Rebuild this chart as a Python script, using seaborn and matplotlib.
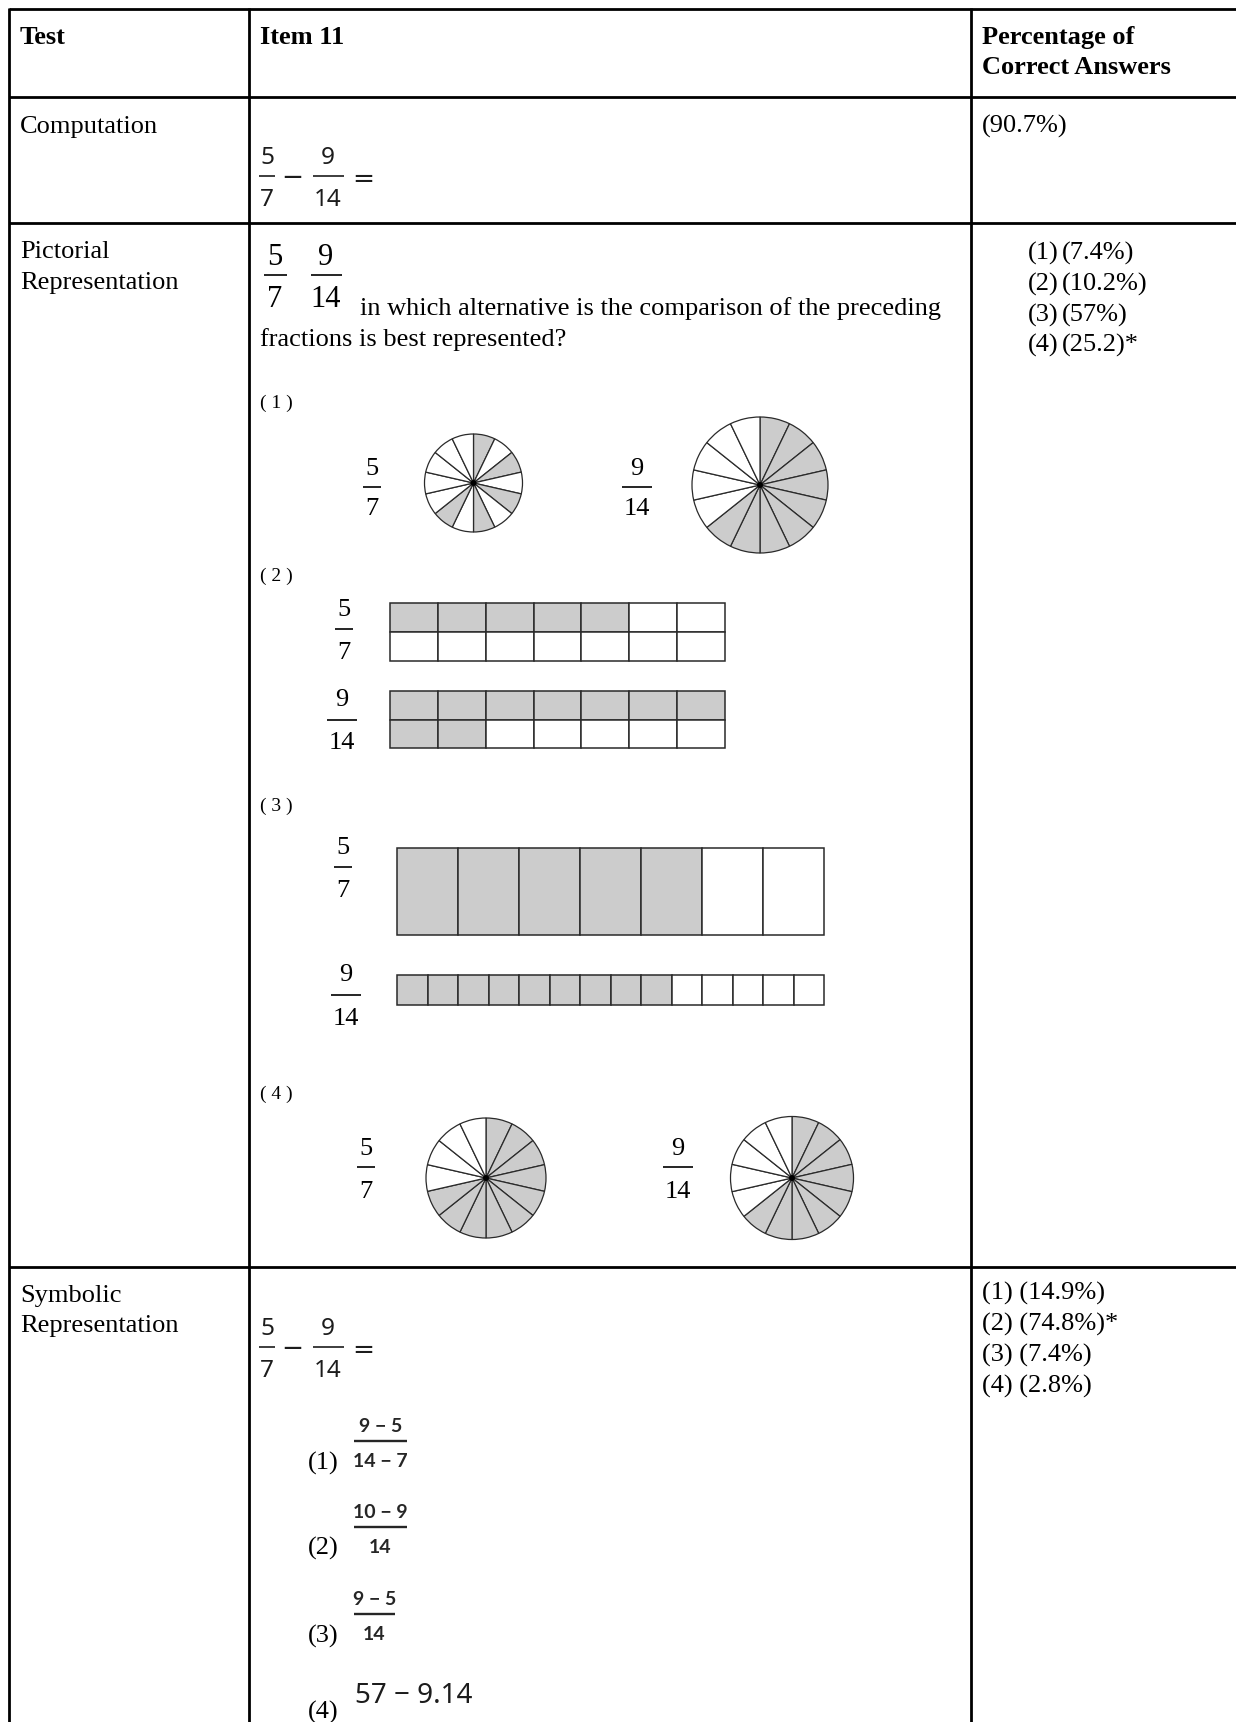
import matplotlib
matplotlib.use("Agg")
import matplotlib.pyplot as plt
import seaborn as sns
from matplotlib.patches import Wedge, Rectangle, Circle

# ---------------- data ----------------
headers = ["Test", "Item 11", "Percentage of", "Correct Answers"]
tests = [["Computation"], ["Pictorial", "Representation"], ["Symbolic", "Representation"]]
computation_pct = "(90.7%)"
pict_option_labels = ["(1)", "(2)", "(3)", "(4)"]
pict_pcts = ["(7.4%)", "(10.2%)", "(57%)", "(25.2)*"]
symb_pcts = ["(1) (14.9%)", "(2) (74.8%)*", "(3) (7.4%)", "(4) (2.8%)"]
pict_question = ["in which alternative is the comparison of the preceding",
                 "fractions is best represented?"]
fraction_a = ("5", "7")
fraction_b = ("9", "14")
symb_options = [("9 \u2212 5", "14 \u2212 7"), ("10 \u2212 9", "14"), ("9 \u2212 5", "14")]
symb_option4 = "57 \u2212 9.14"

# option (1): pies with 14 sectors, shaded sector indices
opt1_small_shaded = [0, 2, 4, 6, 8]
opt1_big_shaded = [0, 1, 2, 3, 4, 5, 6, 7, 8]
# option (4)
opt4_left_shaded = list(range(10))
opt4_right_shaded = list(range(9))
pie_sectors = 14
# option (2): 2x7 grids (1 = shaded)
opt2_top = [[1, 1, 1, 1, 1, 0, 0], [0, 0, 0, 0, 0, 0, 0]]
opt2_bottom = [[1, 1, 1, 1, 1, 1, 1], [1, 1, 0, 0, 0, 0, 0]]
# option (3): strips
opt3_top = [[1, 1, 1, 1, 1, 0, 0]]
opt3_bottom = [[1, 1, 1, 1, 1, 1, 1, 1, 1, 0, 0, 0, 0, 0]]

# ---------------- style ----------------
sns.set_theme(style="white")
plt.rcParams['font.family'] = ['Liberation Serif', 'DejaVu Serif']

SERIF = ['Liberation Serif', 'DejaVu Serif']
MATH = ['Noto Sans', 'DejaVu Sans']
SMALLMATH = ['Lato', 'Noto Sans', 'DejaVu Sans']
OPS = ['DejaVu Sans']
SHADE = '#cccccc'
EDGE = '#2a2a2a'
MATHC = '#1c1c1c'
FS = 19

fig = plt.figure(figsize=(12.36, 17.22), dpi=100)
ax = fig.add_axes([0, 0, 1, 1])
ax.set_xlim(0, 1236)
ax.set_ylim(1722, 0)
ax.axis('off')

# table grid
col_x = [9, 249, 971]
row_y = [9, 97, 223, 1267]
for y in row_y:
    ax.plot([9, 1236], [y, y], color='black', lw=2.0, solid_capstyle='butt')
for x in col_x:
    ax.plot([x, x], [8, 1722], color='black', lw=2.0, solid_capstyle='butt')


def txt(x, y, s, fs=FS, fam=SERIF, weight='normal', ha='left', va='baseline', color='black'):
    ax.text(x, y, s, fontsize=fs, family=fam, fontweight=weight, ha=ha, va=va, color=color)


def frac(xc, ybar, half, num, den, fs, fam, dh, up, down, color='black', weight='normal', lw=1.2):
    ax.plot([xc - half, xc + half], [ybar, ybar], color=color, lw=lw, solid_capstyle='butt')
    txt(xc, ybar - up + dh / 2, num, fs=fs, fam=fam, weight=weight, ha='center', color=color)
    txt(xc, ybar + down + dh / 2, den, fs=fs, fam=fam, weight=weight, ha='center', color=color)


def pie(cx, cy, r, shaded):
    n = pie_sectors
    for k in range(n):
        t1 = 270 + k * 360.0 / n
        ax.add_patch(Wedge((cx, cy), r, t1, t1 + 360.0 / n,
                           facecolor=SHADE if k in shaded else 'white',
                           edgecolor=EDGE, lw=0.9))
    ax.add_patch(Circle((cx, cy), 2.2, color='black', zorder=5))


def grid(x0, y0, x1, y1, mat):
    rows, cols = len(mat), len(mat[0])
    w = (x1 - x0) / cols
    h = (y1 - y0) / rows
    for i in range(rows):
        for j in range(cols):
            ax.add_patch(Rectangle((x0 + j * w, y0 + i * h), w, h,
                                   facecolor=SHADE if mat[i][j] else 'white',
                                   edgecolor=EDGE, lw=1.1))


# header
txt(20, 44, headers[0], weight='bold')
txt(260, 44, headers[1], weight='bold')
txt(982, 44, headers[2], weight='bold')
txt(982, 74, headers[3], weight='bold')

# test names
txt(20, 133, tests[0][0])
txt(20, 258, tests[1][0])
txt(20, 289, tests[1][1])
txt(20, 1302, tests[2][0])
txt(20, 1332, tests[2][1])

# percentages
txt(982, 133, computation_pct)
for i, (lab, p) in enumerate(zip(pict_option_labels, pict_pcts)):
    y = 260 + i * 30.6
    txt(1028, y, lab)
    txt(1062, y, p)
for i, p in enumerate(symb_pcts):
    txt(982, 1300 + i * 31, p)

# computation expression (row 2) and symbolic expression (row 4)
MFS = 17.5
mdh = 0.714 * MFS * 100 / 72
for ybar in (176, 1347):
    frac(267, ybar, 8, fraction_a[0], fraction_a[1], MFS, MATH, mdh, 21, 21, color=MATHC)
    txt(292, ybar + 9, "\u2212", fs=19, fam=OPS, ha='center', color=MATHC)
    frac(328, ybar, 15.5, fraction_b[0], fraction_b[1], MFS, MATH, mdh, 21, 21, color=MATHC)
    txt(363, ybar + 11, "=", fs=19, fam=OPS, ha='center', color=MATHC)

# pictorial question
sdh = 0.676 * 22 * 100 / 72
frac(275, 275, 11.5, fraction_a[0], fraction_a[1], 22, SERIF, sdh, 20, 22)
frac(326, 275, 15.5, fraction_b[0], fraction_b[1], 22, SERIF, sdh, 20, 22)
txt(360, 315, pict_question[0])
txt(260, 346, pict_question[1])

# option labels
for lab, y in zip(pict_option_labels, [403, 576, 806, 1094]):
    txt(260, y, lab.replace("(", "( ").replace(")", " )"), fs=14, va='center')

odh = 0.676 * 19 * 100 / 72
# option (1)
frac(372, 487, 9, fraction_a[0], fraction_a[1], 19, SERIF, odh, 21, 19)
pie(473.5, 483, 49, opt1_small_shaded)
frac(637, 487, 15, fraction_b[0], fraction_b[1], 19, SERIF, odh, 21, 19)
pie(760, 485, 68, opt1_big_shaded)

# option (2)
frac(344, 629, 9, fraction_a[0], fraction_a[1], 19, SERIF, odh, 22, 21)
grid(390, 603, 725, 661, opt2_top)
frac(342, 720, 15, fraction_b[0], fraction_b[1], 19, SERIF, odh, 23, 20)
grid(390, 691, 725, 748, opt2_bottom)

# option (3)
frac(343, 867, 9, fraction_a[0], fraction_a[1], 19, SERIF, odh, 22, 21)
grid(397, 848, 824, 935, opt3_top)
frac(346, 995, 15, fraction_b[0], fraction_b[1], 19, SERIF, odh, 23, 21)
grid(397, 974.5, 824, 1005, opt3_bottom)

# option (4)
frac(366, 1167, 9, fraction_a[0], fraction_a[1], 19, SERIF, odh, 21, 22)
pie(486, 1178, 60, opt4_left_shaded)
frac(678, 1167, 15, fraction_b[0], fraction_b[1], 19, SERIF, odh, 21, 22)
pie(792, 1178, 61.5, opt4_right_shaded)

# symbolic options
SFS = 14
sdh2 = 0.72 * SFS * 100 / 72
opt_bars = [(380.5, 1441, 26.5), (380.5, 1527, 26.5), (374.5, 1614, 20.5)]
opt_lab_base = [1470, 1555, 1643]
for i, ((num, den), (xc, yb, half), yl) in enumerate(zip(symb_options, opt_bars, opt_lab_base)):
    txt(308, yl, pict_option_labels[i])
    frac(xc, yb, half, num, den, SFS, SMALLMATH, sdh2, 16, 19, color='#262626', weight='bold', lw=1.7)
txt(308, 1719, pict_option_labels[3])
txt(355, 1703, symb_option4, fs=20, fam=MATH, color=MATHC)

fig.savefig("out.png", dpi=100)
